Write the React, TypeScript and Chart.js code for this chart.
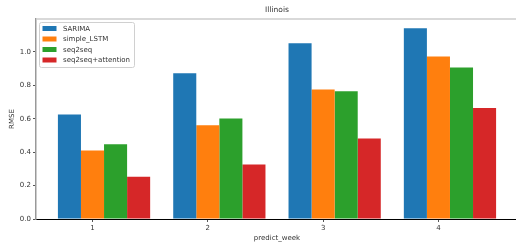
import React, { useEffect, useRef } from "react";
import { Chart, registerables } from "chart.js";

Chart.register(...registerables);

const weeks = [1, 2, 3, 4];
const sarima = [0.625, 0.872, 1.052, 1.142];
const simpleLstm = [0.41, 0.561, 0.775, 0.973];
const seq2seq = [0.448, 0.601, 0.764, 0.906];
const seq2seqAttention = [0.253, 0.326, 0.482, 0.664];
const seriesNames = ["SARIMA", "simple_LSTM", "seq2seq", "seq2seq+attention"];
const seriesColors = ["#1f77b4", "#ff7f0e", "#2ca02c", "#d62728"];
const yTicks = [0, 0.2, 0.4, 0.6, 0.8, 1.0];
const chartTitle = "Illinois";
const xTitle = "predict_week";
const yTitle = "RMSE";

const FONT = "'DejaVu Sans', sans-serif";
const TEXT = "#333333";

const overlayPlugin = {
  id: "overlay",
  afterDraw(chart: any) {
    const ctx = chart.ctx;
    const a = chart.chartArea;
    ctx.save();
    // top spine
    ctx.strokeStyle = "#cccccc";
    ctx.lineWidth = 1.5;
    ctx.beginPath();
    ctx.moveTo(a.left, a.top);
    ctx.lineTo(a.right, a.top);
    ctx.stroke();
    // title
    ctx.fillStyle = TEXT;
    ctx.font = `7.5px ${FONT}`;
    ctx.textAlign = "center";
    ctx.textBaseline = "middle";
    ctx.fillText(chartTitle, (a.left + a.right) / 2, 10);
    // legend
    const lx = a.left + 3.5;
    const ly = a.top + 3.5;
    const lw = 95;
    const lh = 45;
    ctx.fillStyle = "rgba(255,255,255,0.85)";
    ctx.strokeStyle = "#d0d0d0";
    ctx.lineWidth = 1;
    ctx.beginPath();
    (ctx as any).roundRect(lx, ly, lw, lh, 2);
    ctx.fill();
    ctx.stroke();
    ctx.font = `7px ${FONT}`;
    ctx.textAlign = "left";
    chart.data.datasets.forEach((ds: any, i: number) => {
      const cy = ly + 6 + i * 10.5;
      ctx.fillStyle = ds.backgroundColor;
      ctx.fillRect(lx + 3, cy - 2.5, 14, 5);
      ctx.fillStyle = TEXT;
      ctx.fillText(ds.label, lx + 23.5, cy + 0.5);
    });
    ctx.restore();
  },
};

export default function App() {
  const ref = useRef<HTMLCanvasElement>(null);
  useEffect(() => {
    if (!ref.current) return;
    const all = [sarima, simpleLstm, seq2seq, seq2seqAttention];
    const chart = new Chart(ref.current, {
      type: "bar",
      data: {
        datasets: all.map((vals, s) => ({
          label: seriesNames[s],
          backgroundColor: seriesColors[s],
          data: weeks.map((w, i) => ({ x: w + 0.1, y: vals[i] })),
          categoryPercentage: 0.8,
          barPercentage: 1.0,
          borderWidth: 0,
        })),
      },
      options: {
        animation: false,
        responsive: false,
        devicePixelRatio: 1,
        layout: { padding: { top: 19, right: 2, left: 0, bottom: 0 } },
        plugins: {
          legend: { display: false },
          tooltip: { enabled: false },
          title: { display: false },
        },
        scales: {
          x: {
            type: "linear",
            offset: false,
            bounds: "data",
            min: 0.51,
            max: 4.69,
            afterBuildTicks: (scale: any) => {
              scale.ticks = weeks.map((v) => ({ value: v }));
            },
            afterFit: (scale: any) => {
              scale.height = 27;
            },
            ticks: {
              font: { family: FONT, size: 7 },
              color: TEXT,
              padding: 2,
              maxRotation: 0,
              callback: (v: any) => String(v),
            },
            grid: {
              offset: false,
              drawOnChartArea: false,
              drawTicks: true,
              tickLength: 3,
              color: "#555",
            },
            border: { display: true, color: "#000000", width: 1 },
            title: {
              display: true,
              text: xTitle,
              font: { family: FONT, size: 7 },
              color: TEXT,
              padding: { top: 0, bottom: 4 },
            },
          },
          y: {
            type: "linear",
            min: 0,
            max: 1.197,
            afterBuildTicks: (scale: any) => {
              scale.ticks = yTicks.map((v) => ({ value: v }));
            },
            afterFit: (scale: any) => {
              scale.width = 36;
            },
            ticks: {
              font: { family: FONT, size: 7 },
              color: TEXT,
              padding: 2,
              callback: (v: any) => Number(v).toFixed(1),
            },
            grid: {
              drawOnChartArea: false,
              drawTicks: true,
              tickLength: 3,
              color: "#555",
            },
            border: { display: true, color: "#999999", width: 1.5 },
            title: {
              display: true,
              text: yTitle,
              font: { family: FONT, size: 7 },
              color: TEXT,
              padding: { top: 8, bottom: 0 },
            },
          },
        },
      },
      plugins: [overlayPlugin],
    } as any);
    return () => chart.destroy();
  }, []);
  return (
    <div
      style={{
        position: "fixed",
        left: 0,
        top: 0,
        width: 516,
        height: 246,
        overflow: "hidden",
        background: "#fff",
      }}
    >
      <canvas ref={ref} width={520} height={246} style={{ width: 520, height: 246, display: "block" }} />
    </div>
  );
}
